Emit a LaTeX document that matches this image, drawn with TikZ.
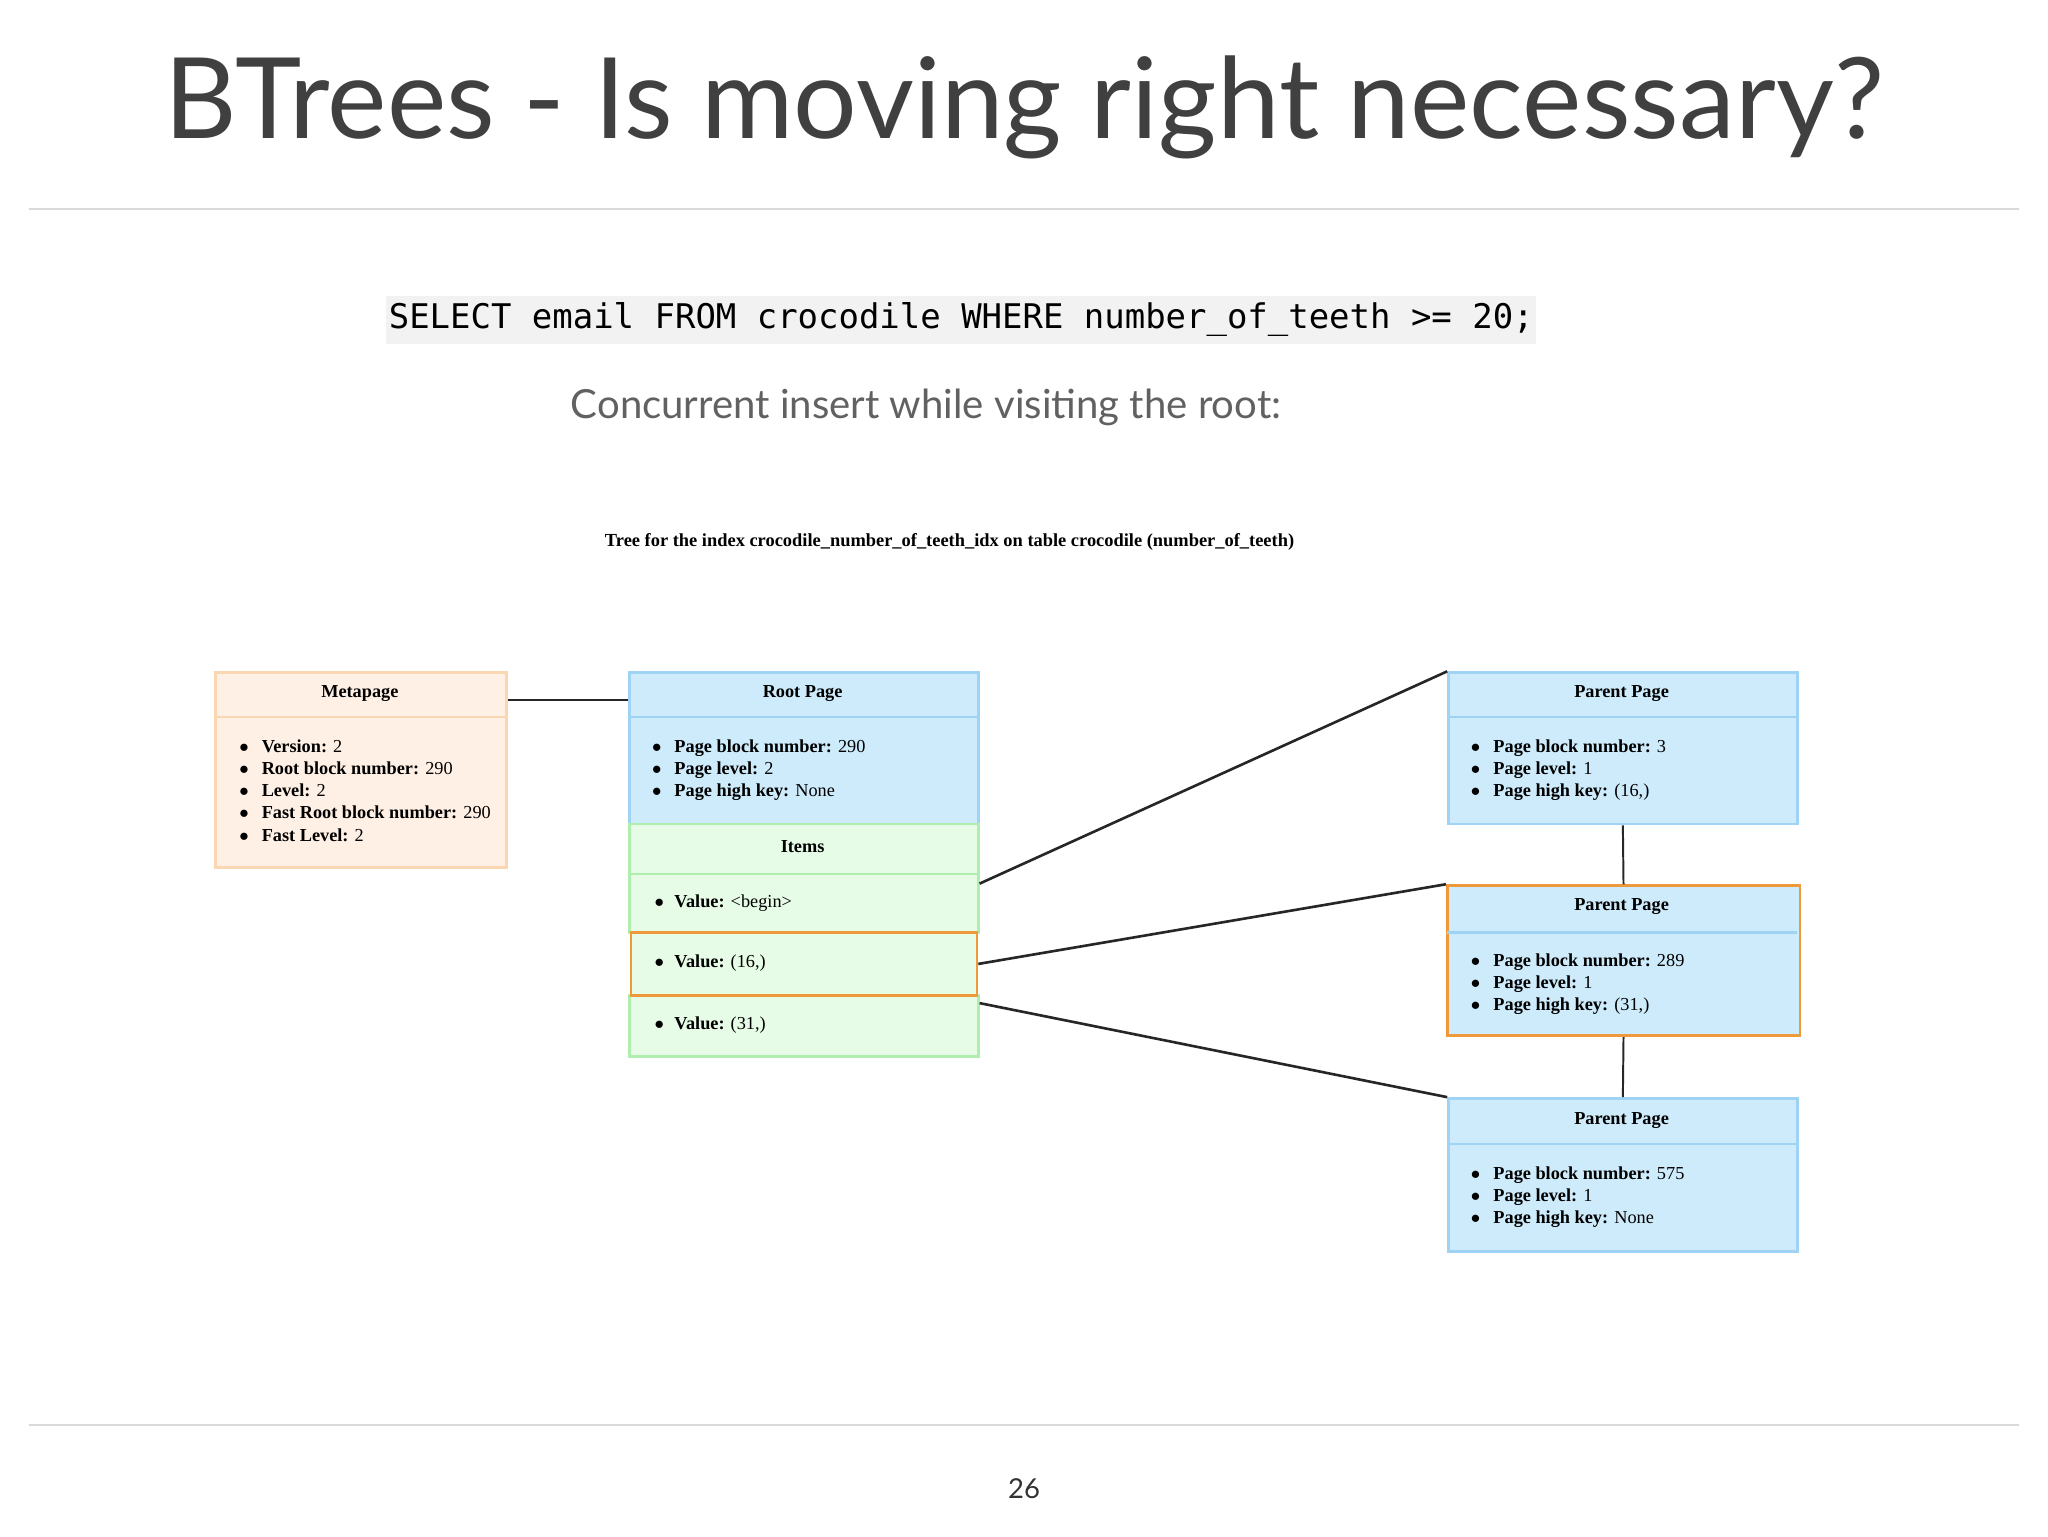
\documentclass[tikz,border=0pt]{standalone}
\usepackage{fontspec}
\setmainfont{Liberation Serif}
\newfontfamily\titlefont{Lato}
\newfontfamily\codefont{DejaVu Sans Mono}
\definecolor{bfill}{HTML}{CDEBFB}
\definecolor{bdraw}{HTML}{9ED3F3}
\definecolor{gfill}{HTML}{E6FCE6}
\definecolor{gdraw}{HTML}{B0EEB0}
\definecolor{ofill}{HTML}{FFF0E5}
\definecolor{odraw}{HTML}{FBD6B2}
\definecolor{hl}{HTML}{EE9A3A}
\begin{document}
\begin{tikzpicture}[x=1pt,y=-1pt,
  box/.style={anchor=north west,inner sep=0pt,line width=2pt},
  hdr/.style={font=\fontsize{14}{15}\selectfont\bfseries,anchor=center},
  lst/.style={font=\fontsize{14}{17}\selectfont,anchor=north west,align=left,inner sep=0pt},
  conn/.style={line width=2pt,draw=black!85}]
\useasboundingbox (0,0) rectangle (1568,1176);
\fill[white] (0,0) rectangle (1568,1176);
\node[font=\titlefont\fontsize{86}{94}\selectfont,text=black!75] (title) at (784,82) {BTrees - Is moving right necessary?};
\draw[black!15,line width=2pt] (22,160) -- (1546,160);
\draw[black!15,line width=2pt] (22,1091) -- (1546,1091);
\node[fill=black!5,inner xsep=2pt,inner ysep=5pt,font=\codefont\fontsize{26}{30}\selectfont] (sql) at (736,245) {SELECT email FROM crocodile WHERE number\_of\_teeth >= 20;};
\node[font=\titlefont\fontsize{30.7}{35}\selectfont,text=black!62] (sub) at (709,312) {Concurrent insert while visiting the root:};
\node[font=\fontsize{14.1}{16}\selectfont\bfseries] (cap) at (727,415) {Tree for the index crocodile\_number\_of\_teeth\_idx on table crocodile (number\_of\_teeth)};
\node[font=\titlefont\fontsize{21}{24}\selectfont,text=black!80] (pg) at (784,1140) {26};
% metapage
\node[box,fill=ofill,draw=odraw,minimum width=223pt,minimum height=149pt] (meta) at (164,514) {};
\draw[odraw,line width=2pt] (164,549) -- (387,549);
\node[hdr] (metah) at (275.5,531) {Metapage};
\node[lst] (metal) at (183,566) {$\bullet$\hspace{10pt}\textbf{Version:} 2\\$\bullet$\hspace{10pt}\textbf{Root block number:} 290\\$\bullet$\hspace{10pt}\textbf{Level:} 2\\$\bullet$\hspace{10pt}\textbf{Fast Root block number:} 290\\$\bullet$\hspace{10pt}\textbf{Fast Level:} 2};
% root
\node[box,fill=bfill,draw=bdraw,minimum width=267pt,minimum height=116pt] (root) at (481,514) {};
\draw[bdraw,line width=2pt] (481,549) -- (748,549);
\node[hdr] (rooth) at (614.5,531) {Root Page};
\node[lst] (rootl) at (499,566) {$\bullet$\hspace{10pt}\textbf{Page block number:} 290\\$\bullet$\hspace{10pt}\textbf{Page level:} 2\\$\bullet$\hspace{10pt}\textbf{Page high key:} None};
\node[box,fill=gfill,draw=gdraw,minimum width=267pt,minimum height=38pt] (items) at (481,630) {};
\node[hdr] (itemsh) at (614.5,648) {Items};
\node[box,fill=gfill,draw=gdraw,minimum width=267pt,minimum height=45pt] (v1) at (481,668) {};
\node[box,fill=gfill,draw=gdraw,minimum width=267pt,minimum height=47pt] (v3) at (481,761) {};
\node[box,fill=gfill,draw=hl,minimum width=265pt,minimum height=48pt] (v2) at (482,713) {};
\node[lst] (v1t) at (501,685) {$\bullet$\hspace{8pt}\textbf{Value:} <begin>};
\node[lst] (v2t) at (501,731) {$\bullet$\hspace{8pt}\textbf{Value:} (16,)};
\node[lst] (v3t) at (501,778) {$\bullet$\hspace{8pt}\textbf{Value:} (31,)};
% parents
\node[box,fill=bfill,draw=bdraw,minimum width=267pt,minimum height=116pt] (p1) at (1108,514) {};
\draw[bdraw,line width=2pt] (1108,549) -- (1375,549);
\node[hdr] (p1h) at (1241.5,531) {Parent Page};
\node[lst] (p1l) at (1126,566) {$\bullet$\hspace{10pt}\textbf{Page block number:} 3\\$\bullet$\hspace{10pt}\textbf{Page level:} 1\\$\bullet$\hspace{10pt}\textbf{Page high key:} (16,)};
\node[box,fill=bfill,draw=hl,minimum width=270pt,minimum height=115pt] (p2) at (1107,677) {};
\draw[bdraw,line width=2pt] (1108,714) -- (1376,714);
\node[hdr] (p2h) at (1241.5,694) {Parent Page};
\node[lst] (p2l) at (1126,730) {$\bullet$\hspace{10pt}\textbf{Page block number:} 289\\$\bullet$\hspace{10pt}\textbf{Page level:} 1\\$\bullet$\hspace{10pt}\textbf{Page high key:} (31,)};
\node[box,fill=bfill,draw=bdraw,minimum width=267pt,minimum height=117pt] (p3) at (1108,840) {};
\draw[bdraw,line width=2pt] (1108,876) -- (1375,876);
\node[hdr] (p3h) at (1241.5,858) {Parent Page};
\node[lst] (p3l) at (1126,893) {$\bullet$\hspace{10pt}\textbf{Page block number:} 575\\$\bullet$\hspace{10pt}\textbf{Page level:} 1\\$\bullet$\hspace{10pt}\textbf{Page high key:} None};
% connectors
\draw[conn] ([yshift=-22pt]meta.north east) -- ([yshift=-22pt]root.north west);
\draw[conn] ([yshift=15pt]v1.west -| v1.east) -- (p1.north west);
\draw[conn] (v2.east) -- (p2.north west);
\draw[conn] ([yshift=-7pt]v3.north east) -- (p3.north west);
\draw[conn,line width=1.5pt] (p1.south) -- (p2.north);
\draw[conn,line width=1.5pt] (p2.south) -- (p3.north);
\end{tikzpicture}
\end{document}
